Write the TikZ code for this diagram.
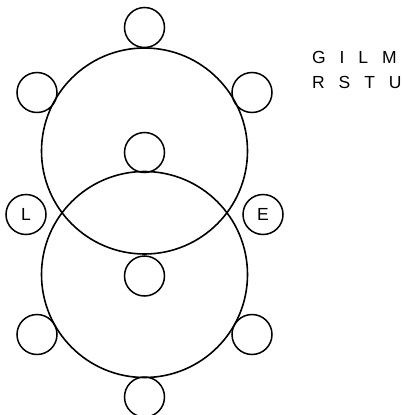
\documentclass[tikz,border=0pt]{standalone}
\usepackage{fontspec}
\setmainfont{Liberation Sans}
\newcommand{\widesp}{\spaceskip 13.9pt\relax}
\begin{document}
\begin{tikzpicture}[x=1pt,y=-1pt,
  ring/.style={draw=black,line width=1.6pt,circle,minimum size=206pt,inner sep=0pt},
  dot/.style={draw=black,line width=1.5pt,circle,minimum size=40pt,inner sep=0pt,font=\fontsize{17.5pt}{20pt}\selectfont},
  lbl/.style={anchor=base west,inner sep=0pt,font=\fontsize{17.5pt}{20pt}\selectfont}]
\useasboundingbox (0,0) rectangle (402,415);
\node[ring] (up) at (144.5,151) {};
\node[ring] (lo) at (144.5,274.5) {};
\node[dot] (top) at (144.5,27.5) {};
\node[dot] (ul) at (37,92.5) {};
\node[dot] (ur) at (252,92.5) {};
\node[dot] (um) at (144.5,152.5) {};
\node[dot] (lm) at (144.5,276) {};
\node[dot] (ll) at (37,334.5) {};
\node[dot] (lr) at (252,334.5) {};
\node[dot] (bot) at (144.5,397) {};
\node[dot] (L) at (26,214.5) {L};
\node[dot] (E) at (263,214.5) {E};
\node[lbl] (t1) at (312,63) {\widesp G I L M};
\node[lbl] (t2) at (312,88) {\widesp R S T U};
\end{tikzpicture}
\end{document}
